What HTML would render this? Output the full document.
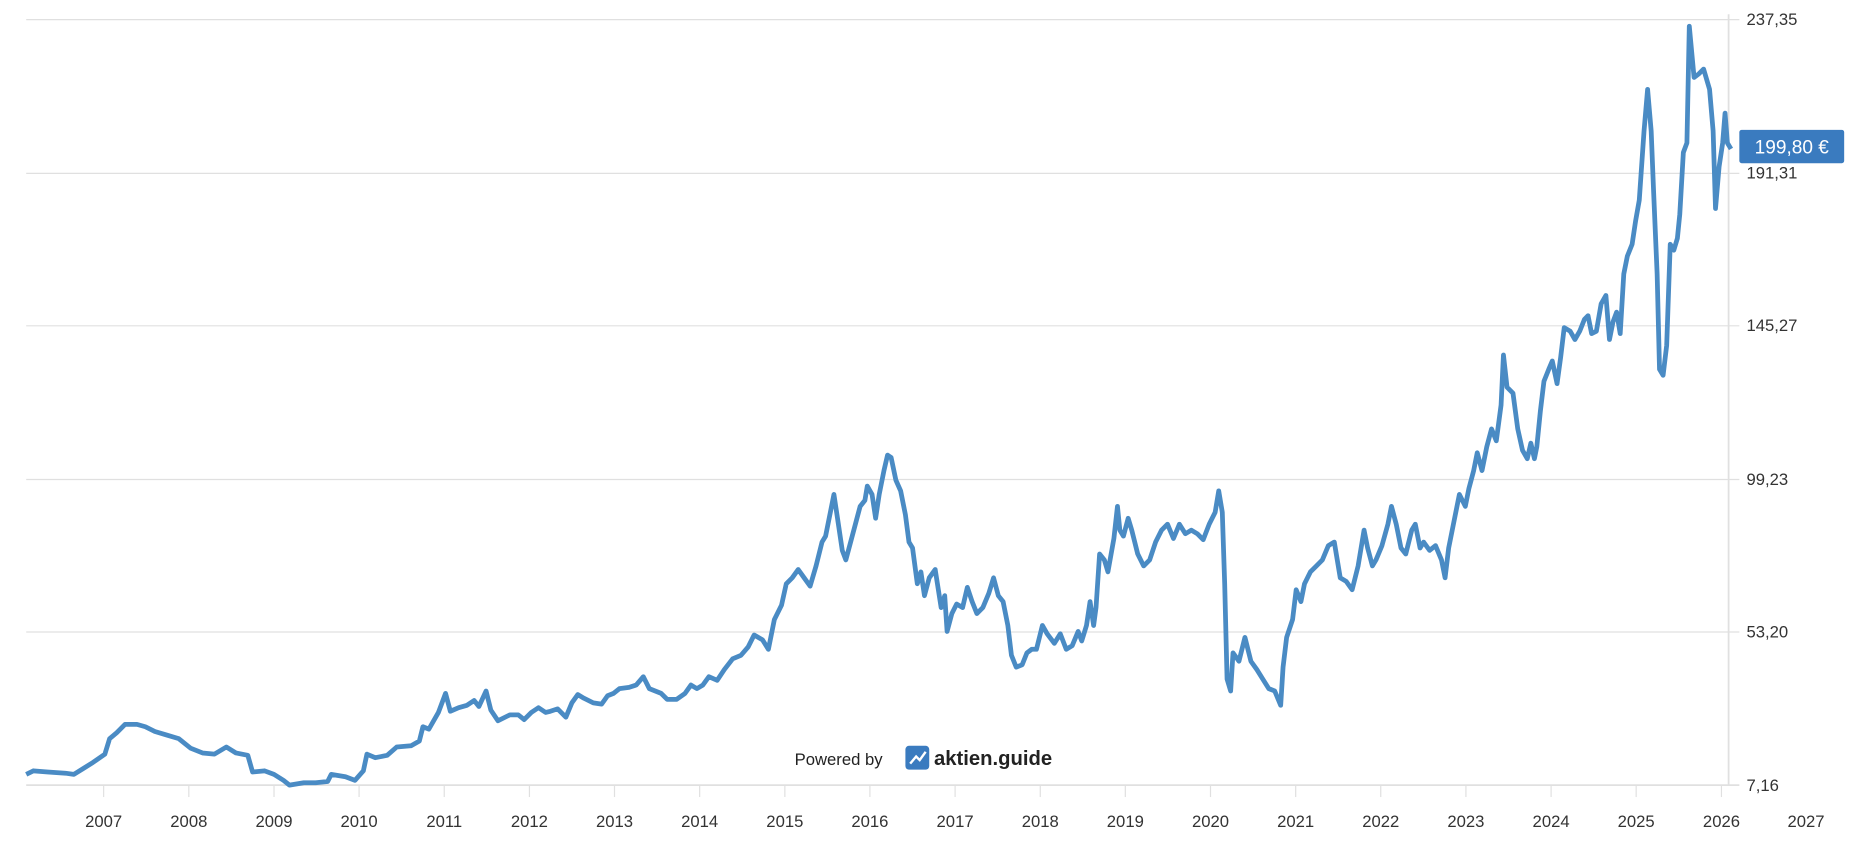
<!DOCTYPE html>
<html><head><meta charset="utf-8"><style>
html,body{margin:0;padding:0;background:#fff;}
svg{display:block;font-family:"Liberation Sans",sans-serif;}
</style></head><body>
<svg width="1868" height="851" viewBox="0 0 1568 714.3" preserveAspectRatio="none" xmlns="http://www.w3.org/2000/svg">
<g stroke="#e0e0e0" stroke-width="1">
<line x1="22" y1="16.5" x2="1460" y2="16.5"/>
<line x1="22" y1="145.5" x2="1460" y2="145.5"/>
<line x1="22" y1="273.5" x2="1460" y2="273.5"/>
<line x1="22" y1="402.5" x2="1460" y2="402.5"/>
<line x1="22" y1="530.5" x2="1460" y2="530.5"/>
<line x1="22" y1="659" x2="1460" y2="659" stroke-width="1.5"/>
<line x1="1451" y1="12" x2="1451" y2="659" stroke-width="1.5"/>
</g>
<g stroke="#e0e0e0" stroke-width="1">
<line x1="87" y1="659" x2="87" y2="669"/><line x1="158.5" y1="659" x2="158.5" y2="669"/><line x1="230" y1="659" x2="230" y2="669"/><line x1="301.4" y1="659" x2="301.4" y2="669"/><line x1="372.9" y1="659" x2="372.9" y2="669"/><line x1="444.4" y1="659" x2="444.4" y2="669"/><line x1="515.8" y1="659" x2="515.8" y2="669"/><line x1="587.3" y1="659" x2="587.3" y2="669"/><line x1="658.8" y1="659" x2="658.8" y2="669"/><line x1="730.2" y1="659" x2="730.2" y2="669"/><line x1="801.7" y1="659" x2="801.7" y2="669"/><line x1="873.2" y1="659" x2="873.2" y2="669"/><line x1="944.6" y1="659" x2="944.6" y2="669"/><line x1="1016.1" y1="659" x2="1016.1" y2="669"/><line x1="1087.6" y1="659" x2="1087.6" y2="669"/><line x1="1159" y1="659" x2="1159" y2="669"/><line x1="1230.5" y1="659" x2="1230.5" y2="669"/><line x1="1302" y1="659" x2="1302" y2="669"/><line x1="1373.4" y1="659" x2="1373.4" y2="669"/><line x1="1445" y1="659" x2="1445" y2="669"/>
</g>
<g font-size="14" fill="#333" text-anchor="middle">
<text x="87" y="694">2007</text><text x="158.5" y="694">2008</text><text x="230" y="694">2009</text><text x="301.4" y="694">2010</text><text x="372.9" y="694">2011</text><text x="444.4" y="694">2012</text><text x="515.8" y="694">2013</text><text x="587.3" y="694">2014</text><text x="658.8" y="694">2015</text><text x="730.2" y="694">2016</text><text x="801.7" y="694">2017</text><text x="873.2" y="694">2018</text><text x="944.6" y="694">2019</text><text x="1016.1" y="694">2020</text><text x="1087.6" y="694">2021</text><text x="1159" y="694">2022</text><text x="1230.5" y="694">2023</text><text x="1302" y="694">2024</text><text x="1373.4" y="694">2025</text><text x="1445" y="694">2026</text><text x="1516" y="694">2027</text>
</g>
<g font-size="14" fill="#333">
<text x="1466" y="21">237,35</text><text x="1466" y="150">191,31</text><text x="1466" y="278">145,27</text><text x="1466" y="407">99,23</text><text x="1466" y="535">53,20</text><text x="1466" y="664">7,16</text>
</g>
<polyline fill="none" stroke="#4a8bc4" stroke-width="4" stroke-linejoin="round" points="22,650 28,647 40,648 55,649 62,650 70,645 78,640 88,633 92,620 98,615 105,608 115,608 122,610 130,614 140,617 150,620 160,628 170,632 180,633 190,627 198,632 208,634 212,648 222,647 230,650 238,655 243,659 255,657 265,657 275,656 278,650 290,652 298,655 305,647 308,633 315,636 325,634 333,627 345,626 352,622 355,610 360,612 368,598 374,582 378,597 385,594 392,592 398,588 402,593 408,580 412,596 418,605 428,600 435,600 440,604 446,598 452,594 458,598 462,597 468,595 475,602 480,590 485,583 490,586 498,590 505,591 510,584 515,582 520,578 528,577 534,575 540,568 545,578 550,580 555,582 560,587 568,587 575,582 580,575 585,578 590,575 595,568 602,571 608,562 615,553 622,550 628,543 633,533 640,537 645,545 650,520 656,508 660,490 665,485 670,478 675,485 680,492 685,475 690,455 693,450 697,430 700,415 703,435 707,462 710,470 714,455 718,440 722,425 726,420 728,408 732,415 735,435 738,415 742,395 745,382 748,384 752,403 756,412 760,432 763,455 766,460 770,490 773,480 776,500 780,485 785,478 790,510 793,500 795,530 799,515 803,507 808,510 812,493 816,505 820,515 825,510 830,498 834,485 838,500 842,505 846,525 849,550 853,560 858,558 862,548 866,545 870,545 875,525 879,532 885,540 890,532 895,545 900,542 905,530 908,538 912,525 915,505 918,525 920,510 923,465 927,470 930,480 935,452 938,425 940,445 943,450 947,435 950,445 955,465 960,475 965,470 970,455 975,445 980,440 985,452 990,440 995,448 1000,445 1005,448 1010,453 1015,440 1020,430 1023,412 1026,430 1028,490 1030,570 1033,580 1035,548 1040,555 1045,535 1050,555 1055,562 1060,570 1065,578 1070,580 1075,592 1077,560 1080,535 1085,520 1088,495 1092,505 1095,490 1100,480 1105,475 1110,470 1115,458 1120,455 1125,485 1130,488 1135,495 1140,475 1145,445 1148,460 1152,475 1155,470 1160,458 1165,440 1168,425 1172,440 1176,460 1180,465 1185,445 1188,440 1192,460 1195,455 1200,462 1205,458 1210,470 1213,485 1216,460 1220,440 1225,415 1230,425 1233,410 1237,395 1240,380 1244,395 1248,375 1252,360 1256,370 1260,340 1262,298 1265,325 1270,330 1274,360 1278,378 1282,385 1285,372 1288,385 1290,375 1293,345 1296,320 1300,310 1303,303 1307,322 1310,300 1313,275 1318,278 1322,285 1326,278 1330,268 1333,265 1336,280 1340,278 1344,255 1348,248 1351,285 1354,270 1357,262 1360,280 1363,230 1366,215 1370,205 1373,185 1376,168 1380,110 1383,75 1386,110 1388,160 1391,230 1393,310 1396,315 1399,290 1402,205 1405,210 1408,200 1410,180 1413,128 1416,120 1418,22 1422,65 1426,62 1430,58 1435,75 1438,110 1440,175 1443,140 1446,120 1448,95 1450,120 1453,125"/>
<rect x="1460" y="109" width="88" height="28" rx="2" fill="#3a7bbf"/>
<text x="1504" y="129" font-size="16" fill="#fff" text-anchor="middle">199,80 €</text>
<text x="667" y="642" font-size="14" fill="#222">Powered by</text>
<rect x="760" y="626" width="20" height="20" rx="3" fill="#3a7bbf"/>
<polyline points="764,641 769,635 772,638 777,631" fill="none" stroke="#fff" stroke-width="2"/>
<text x="784" y="642" font-size="17" font-weight="bold" fill="#222">aktien.guide</text>
</svg>
</body></html>
